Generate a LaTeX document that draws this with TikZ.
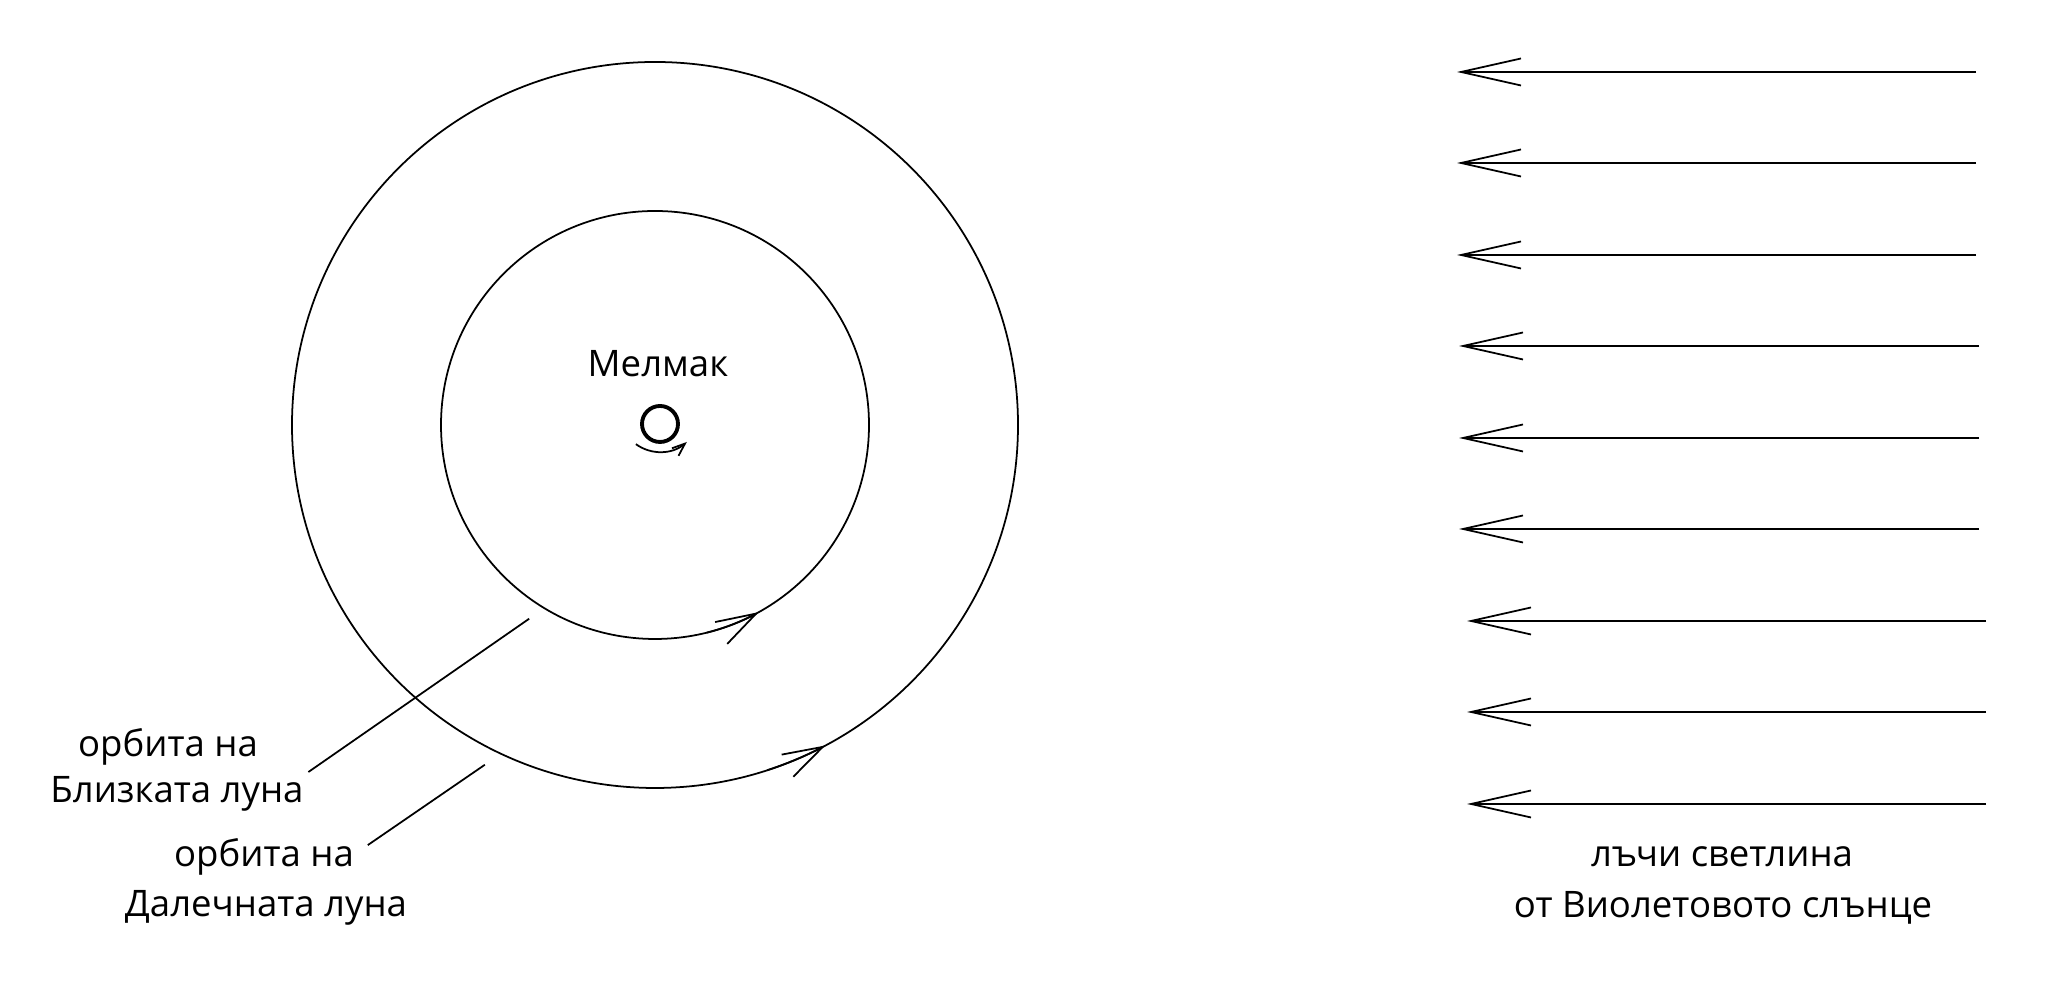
\documentclass[tikz,border=0pt]{standalone}
\usepackage{fontspec}
\setmainfont{Open Sans}
\usetikzlibrary{arrows.meta}

\begin{document}
\begin{tikzpicture}[x=0.1mm,y=0.1mm,line width=0.5pt,
    lbl/.style={inner sep=0pt,anchor=base,font=\fontsize{10.4}{12}\selectfont},
    orbitarrow/.style={-{Straight Barb[length=4mm,width=2.5mm]}},
    ray/.style={-{Straight Barb[length=6mm,width=2.7mm]}},
    spin/.style={-{Straight Barb[length=1.3mm,width=1mm]}}]
  \useasboundingbox (0,0) rectangle (2067,990);
  \coordinate (orbits) at (655,565);
  \node[circle,draw,line width=1.1pt,minimum size=3.6mm,inner sep=0pt] (melmak) at (660,566) {};
  \node[lbl] (melmaklbl) at (658,613) {Мелмак};
  \draw (orbits) circle[radius=214];
  \draw (orbits) circle[radius=363];
  \draw[orbitarrow] (orbits) ++(-76:214) arc[start angle=-76,end angle=-61,radius=214];
  \draw[orbitarrow] (orbits) ++(-72:363) arc[start angle=-72,end angle=-62,radius=363];
  \draw[spin] ([yshift=1.3mm]melmak.center) ++(-126:41) arc[start angle=-126,end angle=-49,radius=41];
  \path (orbits) ++(237:231) coordinate (nearhit);
  \path (orbits) ++(243.4:380) coordinate (farhit);
  \node[lbl] (nearA) at (168,233) {орбита на};
  \node[lbl] (nearB) at (177,187) {Близката луна};
  \node[lbl] (farA) at (264,123) {орбита на};
  \node[lbl] (farB) at (266,73) {Далечната луна};
  \draw (nearhit) -- ([shift={(0.4mm,0.4mm)}]nearB.north east);
  \draw (farhit) -- ([shift={(1.3mm,-0.7mm)}]farA.north east);
  \foreach \y/\xl/\xr [count=\i] in {918/1457/1976,827/1457/1976,735/1457/1976,
      644/1459/1979,552/1459/1979,461/1459/1979,369/1467/1986,278/1467/1986,186/1467/1986}{
    \coordinate (src\i) at (\xr,\y);
    \coordinate (dst\i) at (\xl,\y);
    \draw[ray] (src\i) -- (dst\i);
  }
  \node[lbl] (raysA) at (1722,123) {лъчи светлина};
  \node[lbl] (raysB) at (1723,72) {от Виолетовото слънце};
\end{tikzpicture}
\end{document}
